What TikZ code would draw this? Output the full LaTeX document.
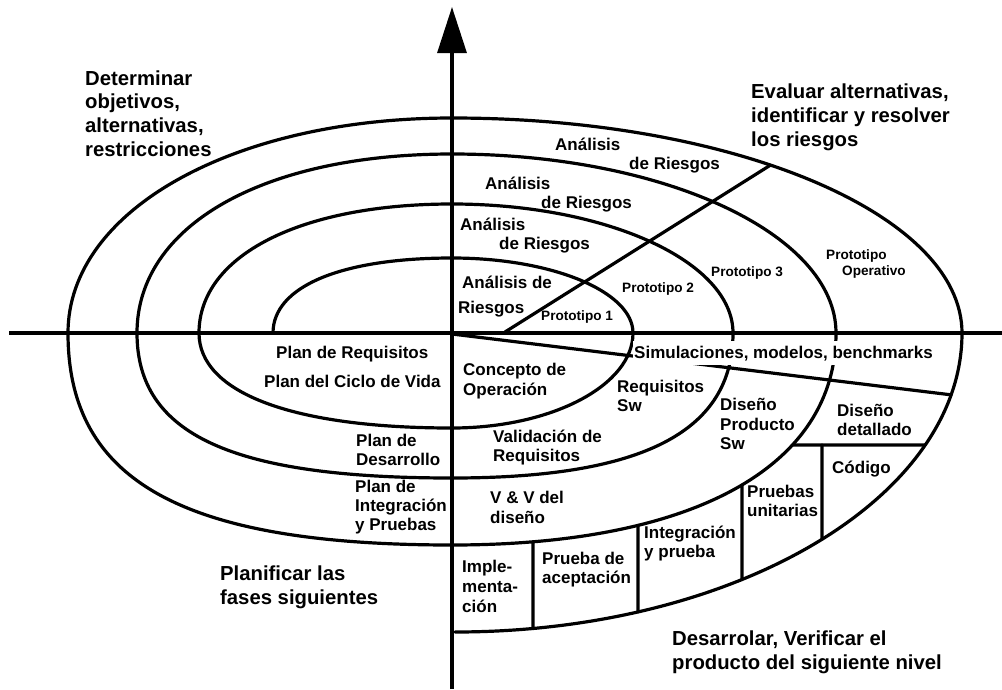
\documentclass[tikz,border=0pt]{standalone}
\usepackage{fontspec}
\setmainfont{Liberation Sans}
\usetikzlibrary{arrows.meta,calc,intersections}

% quarter of an oval from #1 to #2, bulging towards corner #3, roundness #4
\newcommand\quarter[4]{(#1) .. controls ($(#1)!#4!(#3)$) and ($(#2)!#4!(#3)$) .. (#2)}

\tikzset{
  stroke/.style={line width=3.2pt, line cap=round},
  bigtext/.style={anchor=base west, inner sep=0pt, font=\bfseries\fontsize{20.3}{24}\selectfont},
  midtext/.style={anchor=base west, inner sep=0pt, font=\bfseries\fontsize{17}{20}\selectfont},
  prototext/.style={anchor=base west, inner sep=0pt, font=\bfseries\fontsize{13.6}{16}\selectfont},
}

\begin{document}
\begin{tikzpicture}[x=1pt,y=-1pt]
\useasboundingbox (0,0) rectangle (1002,689);

% axes
\coordinate (axL) at (9,333);
\coordinate (axR) at (1002,333);
\coordinate (axB) at (452,689);
\coordinate (axT) at (452,7);
\draw[line width=3.2pt] (axL) -- (axR);
\draw[line width=3.2pt, -{Triangle[length=46pt,width=29pt]}] (axB) -- (axT);

% spiral turning points
\coordinate (O)  at (452,333);
\coordinate (F1) at (273,333); \coordinate (T1) at (452,258); \coordinate (R1) at (633,333); \coordinate (B1) at (452,428);
\coordinate (F2) at (199,333); \coordinate (T2) at (452,204); \coordinate (R2) at (733,333); \coordinate (B2) at (452,478);
\coordinate (F3) at (137,333); \coordinate (T3) at (452,154); \coordinate (R3) at (836,333); \coordinate (B3) at (452,545);
\coordinate (F4) at (68,333);  \coordinate (T4) at (452,118); \coordinate (R4) at (962,333); \coordinate (B4) at (455,632);

% corners of the quarter ovals
\coordinate (c1)  at (F1 |- T1); \coordinate (c2)  at (R1 |- T1); \coordinate (c3)  at (R1 |- B1); \coordinate (c4)  at (F2 |- B1);
\coordinate (c5)  at (F2 |- T2); \coordinate (c6)  at (R2 |- T2); \coordinate (c7)  at (R2 |- B2); \coordinate (c8)  at (F3 |- B2);
\coordinate (c9)  at (F3 |- T3); \coordinate (c10) at (R3 |- T3); \coordinate (c11) at (R3 |- B3); \coordinate (c12) at (F4 |- B3);
\coordinate (c13) at (F4 |- T4); \coordinate (c14) at (R4 |- T4); \coordinate (c15) at (R4 |- B4);

% the spiral
\draw[stroke] \quarter{F1}{T1}{c1}{0.62};
\draw[stroke] \quarter{T1}{R1}{c2}{0.5523};
\draw[stroke] \quarter{R1}{B1}{c3}{0.55};
\draw[stroke] \quarter{B1}{F2}{c4}{0.63};
\draw[stroke] \quarter{F2}{T2}{c5}{0.6};
\draw[stroke] \quarter{T2}{R2}{c6}{0.5523};
\draw[stroke] \quarter{R2}{B2}{c7}{0.68};
\draw[stroke] \quarter{B2}{F3}{c8}{0.7};
\draw[stroke] \quarter{F3}{T3}{c9}{0.6};
\draw[stroke] \quarter{T3}{R3}{c10}{0.5523};
\draw[stroke, name path=lr3] \quarter{R3}{B3}{c11}{0.63};
\draw[stroke] \quarter{B3}{F4}{c12}{0.7};
\draw[stroke] \quarter{F4}{T4}{c13}{0.57};
\draw[stroke, name path=ur4] \quarter{T4}{R4}{c14}{0.5523};
\draw[stroke, name path=lr4] \quarter{R4}{B4}{c15}{0.5523};

% prototype ray
\coordinate (dgS) at (505,332);
\path[name path=dg] (dgS) -- (805,143.4);
\path[name intersections={of=ur4 and dg, by=dgE}];
\draw[stroke] (dgS) -- (dgE);

% simulation ray
\coordinate (smS) at (452,334);
\path[name path=sm] (smS) -- (1000,400.8);
\path[name intersections={of=lr4 and sm, by=smE}];
\draw[stroke] (smS) -- (smE);

% cells of the outer band
\foreach \x/\nm in {533/cuta,638/cutb,742/cutc}{
  \path[name path=\nm] (\x,420) -- (\x,700);
  \path[name intersections={of=lr3 and \nm, by=top-\nm}];
  \path[name intersections={of=lr4 and \nm, by=bot-\nm}];
  \draw[stroke] (top-\nm) -- (bot-\nm);
}
\path[name path=hcut] (700,445) -- (1000,445);
\path[name intersections={of=lr3 and hcut, by=hA}];
\path[name intersections={of=lr4 and hcut, by=hB}];
\draw[stroke] (hA) -- (hB);
\coordinate (cdT) at (822,445);
\path[name path=cutd] (cdT) -- (822,700);
\path[name intersections={of=lr4 and cutd, by=cdB}];
\draw[stroke] (cdT) -- (cdB);

% quadrant titles
\node[bigtext] (det1) at (85,85)    {Determinar};
\node[bigtext] (det2) at (85,108.5) {objetivos,};
\node[bigtext] (det3) at (85,132)   {alternativas,};
\node[bigtext] (det4) at (85,156)   {restricciones};
\node[bigtext] (ev1) at (751,98)  {Evaluar alternativas,};
\node[bigtext] (ev2) at (751,122) {identificar y resolver};
\node[bigtext] (ev3) at (751,146) {los riesgos};
\node[bigtext] (pl1) at (220,580) {Planificar las};
\node[bigtext] (pl2) at (220,604) {fases siguientes};
\node[bigtext] (ds1) at (672,645) {Desarrolar, Verificar el};
\node[bigtext] (ds2) at (672,669) {producto del siguiente nivel};

% risk analysis labels
\node[midtext] (ra1a) at (555,150) {Análisis};
\node[midtext] (ra1b) at (629,169) {de Riesgos};
\node[midtext] (ra2a) at (485,189) {Análisis};
\node[midtext] (ra2b) at (541,208) {de Riesgos};
\node[midtext] (ra3a) at (460,230) {Análisis};
\node[midtext] (ra3b) at (499,249) {de Riesgos};
\node[midtext] (ra4a) at (462,288) {Análisis de};
\node[midtext] (ra4b) at (458,313) {Riesgos};

% prototypes
\node[prototext] (p1)  at (541,320) {Prototipo 1};
\node[prototext] (p2)  at (622,292) {Prototipo 2};
\node[prototext] (p3)  at (711,276) {Prototipo 3};
\node[prototext] (p4a) at (826,259) {Prototipo};
\node[prototext] (p4b) at (842,275) {Operativo};

% planning labels
\node[midtext] (pr)  at (276,358) {Plan de Requisitos};
\node[midtext] (pc)  at (264,387) {Plan del Ciclo de Vida};
\node[midtext] (pd1) at (356,446) {Plan de};
\node[midtext] (pd2) at (356,465) {Desarrollo};
\node[midtext] (pi1) at (355,492) {Plan de};
\node[midtext] (pi2) at (355,511) {Integración};
\node[midtext] (pi3) at (355,530) {y Pruebas};

% development labels
\node[midtext, fill=white, inner xsep=1pt, inner ysep=4.4pt] (sim) at (633,358) {Simulaciones, modelos, benchmarks};
\node[midtext] (co1) at (463,375) {Concepto de};
\node[midtext] (co2) at (463,395) {Operación};
\node[midtext] (rs1) at (617,392) {Requisitos};
\node[midtext] (rs2) at (617,411) {Sw};
\node[midtext] (va1) at (493,442) {Validación de};
\node[midtext] (va2) at (493,461) {Requisitos};
\node[midtext] (dp1) at (720,410) {Diseño};
\node[midtext] (dp2) at (720,430) {Producto};
\node[midtext] (dp3) at (720,449) {Sw};
\node[midtext] (vv1) at (490,503) {V \& V del};
\node[midtext] (vv2) at (490,523) {diseño};
\node[midtext] (dd1) at (837,416) {Diseño};
\node[midtext] (dd2) at (837,435) {detallado};
\node[midtext] (cod) at (832,473) {Código};
\node[midtext] (pu1) at (747,497) {Pruebas};
\node[midtext] (pu2) at (747,516) {unitarias};
\node[midtext] (ip1) at (644,538) {Integración};
\node[midtext] (ip2) at (644,557) {y prueba};
\node[midtext] (ac1) at (542,564) {Prueba de};
\node[midtext] (ac2) at (542,583) {aceptación};
\node[midtext] (im1) at (462,572) {Imple-};
\node[midtext] (im2) at (462,592) {menta-};
\node[midtext] (im3) at (462,612) {ción};
\end{tikzpicture}
\end{document}
